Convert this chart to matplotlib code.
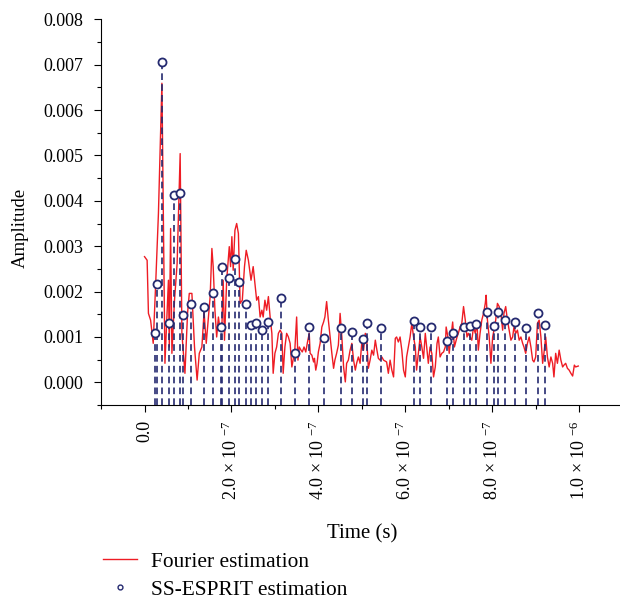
import numpy as np
import matplotlib.pyplot as plt
from matplotlib.lines import Line2D
from matplotlib.ticker import MultipleLocator, FixedLocator, FormatStrFormatter

plt.rcParams['font.family'] = ['Liberation Serif', 'DejaVu Serif']
plt.rcParams['mathtext.fontset'] = 'custom'
plt.rcParams['mathtext.rm'] = 'Liberation Serif'
plt.rcParams['mathtext.it'] = 'Liberation Serif:italic'

# Fourier estimation (time in ns, amplitude in 1e-3)
fourier_t = [0, 6, 9, 14, 20, 26, 32, 40, 47, 55,
             57, 60, 63, 69, 75, 82, 86, 93, 99, 103,
             109, 115, 121, 126, 132, 137, 142, 151, 155, 158,
             162, 166, 170, 174, 178, 181, 184, 189, 195, 198,
             201, 204, 208, 212, 216, 220, 225, 230, 234, 239,
             245, 250, 254, 258, 262, 266, 270, 273, 277, 281,
             285, 289, 293, 296, 300, 304, 308, 312, 316, 319,
             323, 327, 331, 335, 339, 343, 346, 350, 353, 356,
             360, 363, 367, 371, 375, 379, 381, 385, 389, 391,
             394, 397, 400, 404, 408, 412, 415, 419, 423, 427,
             431, 435, 438, 442, 446, 450, 454, 458, 462, 465,
             469, 473, 477, 481, 485, 488, 492, 496, 500, 504,
             508, 511, 515, 519, 523, 527, 531, 534, 538, 542,
             546, 550, 557, 561, 565, 569, 573, 577, 580, 584,
             588, 592, 596, 600, 603, 607, 611, 615, 619, 623,
             626, 630, 634, 638, 642, 646, 650, 653, 657, 661,
             665, 669, 673, 676, 680, 684, 688, 692, 694, 698,
             701, 705, 709, 713, 719, 722, 726, 730, 734, 738,
             742, 745, 749, 753, 757, 761, 765, 768, 772, 776,
             780, 784, 786, 789, 793, 797, 801, 804, 808, 812,
             816, 820, 824, 827, 831, 835, 839, 843, 847, 850,
             854, 858, 862, 866, 870, 873, 877, 881, 885, 889,
             893, 896, 900, 904, 908, 912, 916, 919, 923, 927,
             931, 935, 939, 942, 946, 950, 954, 958, 962, 965,
             969, 973, 977, 981, 985, 989, 992, 998]
fourier_amp = [2.77, 2.69, 1.52, 1.37, 0.86, 2.25, 3.72, 6.59, 0.42, 2.25,
               0.78, 3.39, 0.64, 1.81, 2.62, 5.04, 1.08, 0.20, 1.52, 1.96,
               1.96, 0.78, 0.05, 0.64, 0.78, 1.56, 0.86, 1.89, 2.95, 2.55,
               1.59, 1.00, 1.44, 1.15, 1.22, 2.25, 0.93, 2.25, 2.99, 2.55,
               3.21, 2.47, 3.35, 3.50, 3.28, 1.74, 1.81, 2.55, 2.91, 2.69,
               2.25, 2.55, 2.18, 1.81, 1.89, 1.44, 1.59, 1.44, 1.81, 1.59,
               1.89, 1.44, 1.08, 0.20, 0.64, 0.78, 1.08, 1.15, 1.08, 0.20,
               0.78, 1.08, 1.00, 0.86, 0.34, 0.56, 0.75, 1.44, 0.49, 0.78,
               0.71, 0.67, 0.78, 0.67, 0.89, 1.08, 0.64, 0.60, 0.45, 0.53,
               0.27, 0.42, 0.67, 0.86, 1.22, 1.33, 1.44, 1.78, 1.37, 1.00,
               0.64, 0.31, 0.49, 0.64, 0.82, 1.52, 1.00, 0.34, 0.01, 0.42,
               0.49, 0.71, 0.86, 0.49, 0.27, 0.42, 0.56, 0.42, 0.89, 0.71,
               1.08, 1.00, 0.31, 0.49, 0.71, 0.60, 0.93, 0.75, 0.53, 0.49,
               0.56, 0.49, 0.45, 0.20, 0.49, 0.27, 0.12, 0.97, 1.00, 0.89,
               1.00, 0.71, 0.27, 0.12, 0.56, 0.78, 1.00, 1.30, 1.00, 0.78,
               0.27, 0.64, 1.00, 0.78, 0.53, 1.08, 0.71, 0.42, 0.78, 0.64,
               0.12, 0.34, 0.86, 1.00, 0.56, 0.64, 0.67, 0.78, 1.22, 1.00,
               0.64, 1.00, 1.33, 0.78, 1.00, 1.08, 1.22, 1.30, 1.67, 1.37,
               1.00, 1.08, 1.00, 0.93, 1.22, 1.08, 1.30, 0.71, 1.08, 1.37,
               1.52, 1.74, 1.92, 1.37, 1.00, 0.42, 1.00, 1.15, 1.37, 1.74,
               1.67, 1.52, 1.15, 1.52, 1.67, 1.37, 1.15, 0.93, 1.00, 1.22,
               1.08, 1.15, 0.93, 1.00, 0.86, 0.78, 0.64, 0.86, 1.00, 0.78,
               0.49, 0.45, 0.56, 1.30, 1.37, 1.00, 0.42, 0.64, 1.00, 0.56,
               0.34, 0.56, 0.42, 0.12, 0.64, 0.42, 0.71, 0.49, 0.34, 0.38,
               0.42, 0.31, 0.27, 0.20, 0.14, 0.38, 0.34, 0.36]

# SS-ESPRIT estimation (time in ns, amplitude in 1e-3)
esprit_t = [23, 29, 41, 56, 67, 82, 89, 108, 137, 157,
            177, 178, 195, 208, 217, 234, 245, 257, 270, 284,
            314, 346, 379, 413, 452, 478, 502, 511, 544, 619,
            633, 659, 696, 710, 736, 749, 763, 788, 804, 814,
            829, 852, 878, 906, 922]
esprit_amp = [1.09, 2.17, 7.06, 1.31, 4.13, 4.17, 1.49, 1.72, 1.67, 1.96,
              1.22, 2.55, 2.31, 2.71, 2.22, 1.72, 1.26, 1.31, 1.15, 1.32,
              1.85, 0.65, 1.23, 0.98, 1.19, 1.12, 0.95, 1.31, 1.19, 1.35,
              1.22, 1.22, 0.91, 1.09, 1.22, 1.25, 1.28, 1.55, 1.24, 1.55,
              1.37, 1.32, 1.20, 1.53, 1.27]

xtick_vals = [0, 2e-7, 4e-7, 6e-7, 8e-7, 1e-6]
xtick_labels = ['0.0', '2.0 × 10 $^{-7}$', '4.0 × 10 $^{-7}$',
                '6.0 × 10 $^{-7}$', '8.0 × 10 $^{-7}$', '1.0 × 10 $^{-6}$']

red = '#ee1c24'
navy = '#252a70'

ft = np.array(fourier_t) * 1e-9
fa = np.array(fourier_amp) * 1e-3
et = np.array(esprit_t) * 1e-9
ea = np.array(esprit_amp) * 1e-3

ymin, ymax = -0.0005, 0.008

fig = plt.figure(figsize=(6.2, 6.01), dpi=100)
ax = fig.add_axes([0.163, 0.326, 0.837, 0.642])

ax.plot(ft, fa, color=red, lw=1.0, zorder=2)
ax.vlines(et, ymin, ea, colors=navy, lw=1.2, linestyles=(0, (4, 2.5)), zorder=3)
ax.plot(et, ea, 'o', ms=5.8, mfc='white', mec=navy, mew=1.3, zorder=4)

ax.set_xlim(-1.0e-7, 1.094e-6)
ax.set_ylim(ymin, ymax)

ax.spines['top'].set_visible(False)
ax.spines['right'].set_visible(False)

ax.xaxis.set_major_locator(FixedLocator(xtick_vals))
ax.set_xticklabels(xtick_labels, rotation=90, fontsize=13)
ax.xaxis.set_minor_locator(MultipleLocator(1e-7))
ax.yaxis.set_major_locator(MultipleLocator(0.001))
ax.yaxis.set_minor_locator(MultipleLocator(0.0005))
ax.yaxis.set_major_formatter(FormatStrFormatter('%.3f'))
ax.tick_params(axis='both', which='major', length=5, width=0.8)
ax.tick_params(axis='both', which='minor', length=3, width=0.8)
ax.tick_params(axis='x', which='major', pad=6, labelsize=13)
ax.tick_params(axis='y', which='major', pad=8, labelsize=13)

ax.set_xlabel('Time (s)', fontsize=15)
ax.xaxis.set_label_coords(0.503, -0.31)
ax.set_ylabel('Amplitude', fontsize=13.5)
ax.yaxis.set_label_coords(-0.139, 0.4585)

handles = [Line2D([], [], color=red, lw=1.0),
           Line2D([], [], ls='none', marker='o', ms=3.5, mfc='white', mec=navy, mew=1.0)]
fig.legend(handles, ['Fourier estimation', 'SS-ESPRIT estimation'],
           loc='upper left', bbox_to_anchor=(0.166, 0.082), frameon=False,
           fontsize=15.4, handlelength=1.6, handletextpad=0.65,
           borderpad=0, borderaxespad=0, labelspacing=0.37)

fig.savefig('out.png', dpi=100)
